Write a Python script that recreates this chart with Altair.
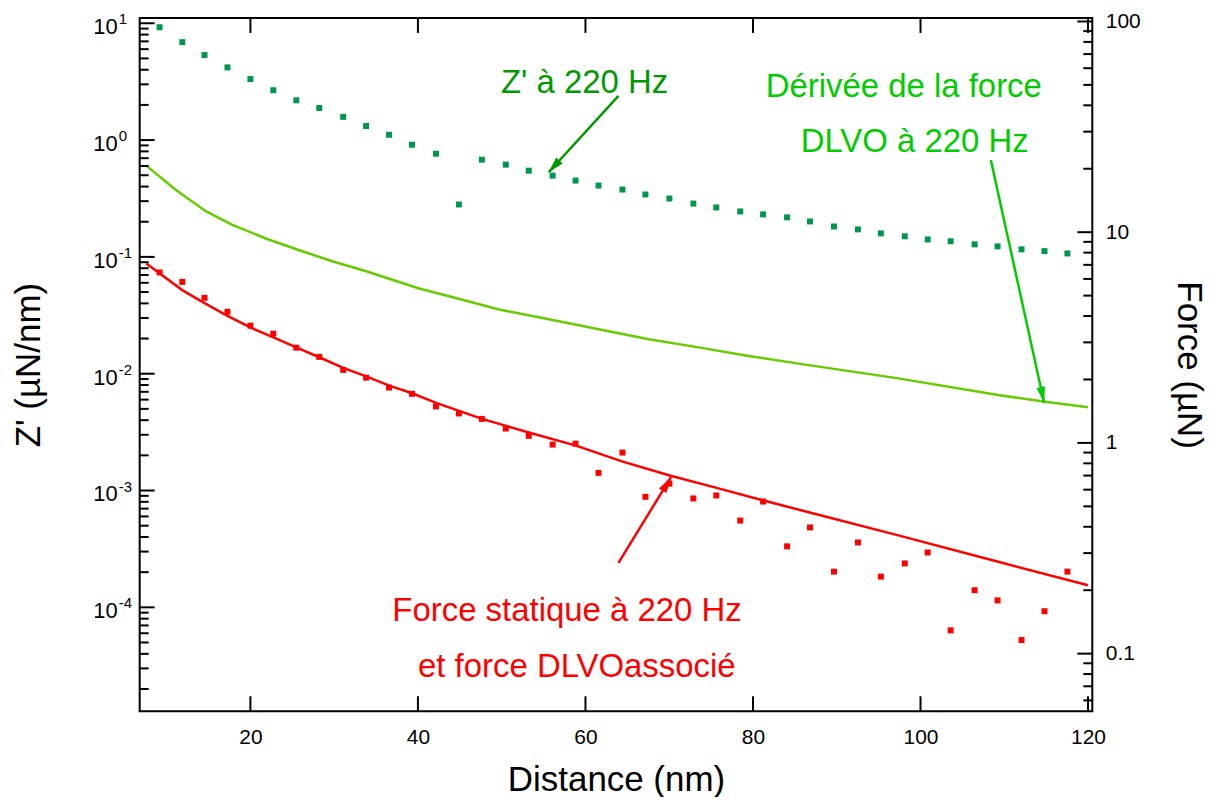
import math
import altair as alt
import pandas as pd

FONT = "Liberation Sans"

# ---------------- data ----------------
distance = [9.16, 11.87, 14.52, 17.26, 20.0, 22.74, 25.48, 28.22, 31.08, 33.81,
            36.55, 39.29, 42.15, 44.89, 47.63, 50.49, 53.23, 56.08, 58.82, 61.56,
            64.42, 67.16, 70.02, 72.88, 75.62, 78.48, 81.21, 84.07, 86.81, 89.67,
            92.53, 95.27, 98.12, 100.86, 103.60, 106.46, 109.20, 112.06, 114.80, 117.54]

# Z' at 220 Hz (left axis, µN/nm)
z_220 = [9.25, 6.89, 5.34, 4.19, 3.33, 2.67, 2.19, 1.88, 1.58, 1.32,
         1.11, 0.912, 0.764, 0.281, 0.679, 0.616, 0.547, 0.496, 0.450, 0.408,
         0.377, 0.342, 0.316, 0.286, 0.265, 0.245, 0.231, 0.218, 0.201, 0.182,
         0.172, 0.159, 0.150, 0.141, 0.136, 0.128, 0.123, 0.116, 0.112, 0.107]

# static force at 220 Hz (right axis, µN)
force_220 = [6.44, 5.81, 4.88, 4.19, 3.60, 3.30, 2.83, 2.56, 2.22, 2.04,
             1.83, 1.71, 1.49, 1.38, 1.30, 1.17, 1.08, 0.982, 0.992, 0.721,
             0.900, 0.555, 0.641, 0.545, 0.563, 0.428, 0.527, 0.323, 0.397, 0.245,
             0.337, 0.232, 0.268, 0.302, 0.129, 0.200, 0.179, 0.116, 0.159, 0.245]

# derivative of the DLVO force (left axis)
deriv_x = [7.57, 11.0, 14.72, 17.85, 21.91, 25.84, 29.77, 33.83, 40.14, 43.72, 49.68,
           55.64, 61.6, 67.56, 73.52, 79.47, 85.43, 97.35, 109.27, 114.87, 120.0]
deriv_y = [0.604, 0.38, 0.245, 0.188, 0.143, 0.114, 0.0918, 0.0754, 0.0537, 0.0461, 0.0355,
           0.0292, 0.0240, 0.0197, 0.0168, 0.0142, 0.0122, 0.00912, 0.00656, 0.00576, 0.00516]

# associated DLVO force (right axis)
dlvo_x = [7.57, 9.15, 11.86, 14.52, 17.26, 20.0, 22.74, 25.48, 28.22, 31.08,
          33.83, 36.57, 39.31, 42.17, 47.65, 53.25, 58.86, 64.46, 70.06, 75.66,
          81.26, 87.82, 97.35, 109.27, 120.0]
dlvo_y = [7.11, 6.39, 5.31, 4.61, 4.01, 3.53, 3.17, 2.84, 2.55, 2.27,
          2.07, 1.87, 1.72, 1.55, 1.30, 1.12, 0.971, 0.815, 0.700, 0.612,
          0.533, 0.456, 0.364, 0.273, 0.211]

# annotations (data coordinates)
lbl_z_text = ["Z' à 220 Hz"]
lbl_z_x = [59.9]
lbl_z_y = [2.54]

lbl_d_text = ["Dérivée de la force", "DLVO à 220 Hz"]
lbl_d_x = [98.0, 99.3]
lbl_d_y = [2.33, 0.785]

lbl_f_text = ["Force statique à 220 Hz", "et force DLVOassocié"]
lbl_f_x = [57.8, 58.97]
lbl_f_y = [0.1426, 0.0774]

arrow_z = dict(x=63.94, y=2.39, x2=55.61, y2=0.530)        # left axis
arrow_d = dict(x=108.40, y=0.676, x2=114.76, y2=0.00564)   # left axis
arrow_f = dict(x=63.94, y=0.2695, x2=70.22, y2=0.688)      # right axis

x_ticks = [20, 40, 60, 80, 100, 120]
yl_exps = [-4, -3, -2, -1, 0, 1]
yr_major = [0.1, 1, 10, 100]

x_domain = [6.78, 120.51]
yl_domain = [1.29e-5, 11.1]
yr_domain = [0.0533, 103.9]

W, H = 955, 695

# ---------------- helpers ----------------
yl_major = [10.0 ** e for e in yl_exps]
yl_minor = [m * 10.0 ** e for e in range(-5, 1) for m in range(2, 10)
            if yl_domain[0] <= m * 10.0 ** e <= yl_domain[1]]
yr_minor = [m * 10.0 ** e for e in range(-2, 2) for m in range(2, 10)
            if yr_domain[0] <= m * 10.0 ** e <= yr_domain[1]]


def px(v):
    return (v - x_domain[0]) / (x_domain[1] - x_domain[0]) * W


def py(v, dom):
    return H * (math.log10(dom[1]) - math.log10(v)) / (math.log10(dom[1]) - math.log10(dom[0]))


def head_angle(a, dom):
    dx = px(a["x2"]) - px(a["x"])
    dy = py(a["y2"], dom) - py(a["y"], dom)
    return (math.degrees(math.atan2(dx, -dy)) + 360) % 360


xs = alt.Scale(domain=x_domain, nice=False, zero=False)
ysL = alt.Scale(type="log", domain=yl_domain, nice=False)
ysR = alt.Scale(type="log", domain=yr_domain, nice=False)

base_ax = dict(domain=False, grid=False, ticks=False, tickSize=0,
               labelFont=FONT, labelColor="black", titleFont=FONT,
               titleColor="black", titleFontWeight="normal")

ax_x_lab = alt.Axis(orient="bottom", values=x_ticks,
                    labelPadding=15, labelFontSize=21, format="d",
                    title="Distance (nm)", titleFontSize=35,
                    titleBaseline="alphabetic", titleY=79, **base_ax)

ax_yl_title = alt.Axis(orient="left", values=yl_major, labels=False,
                       title="Z' (µN/nm)", titleFontSize=35, titleAngle=270,
                       titleBaseline="alphabetic", titleAlign="center", titleX=-100,
                       **base_ax)

ax_yr_lab = alt.Axis(orient="right", values=yr_major,
                     labelPadding=13, labelFontSize=21, format="~g",
                     title="Force (µN)", titleFontSize=35, titleAngle=90,
                     titleBaseline="alphabetic", titleAlign="center", titleX=85,
                     **base_ax)

pts = pd.DataFrame({"distance": distance, "z": z_220, "f": force_220})
deriv = pd.DataFrame({"distance": deriv_x, "z": deriv_y})
dlvo = pd.DataFrame({"distance": dlvo_x, "f": dlvo_y})


def YL(field, axis=None):
    return alt.Y(f"{field}:Q", scale=ysL, axis=axis)


def YR(field, axis=None):
    return alt.Y(f"{field}:Q", scale=ysR, axis=axis)


green_pts = alt.Chart(pts).mark_square(size=36, color="#009650", opacity=1).encode(
    x=alt.X("distance:Q", scale=xs, axis=ax_x_lab), y=YL("z", ax_yl_title))
green_line = alt.Chart(deriv).mark_line(color="#66CC00", strokeWidth=2.5).encode(
    x=alt.X("distance:Q", scale=xs, axis=None), y=YL("z"))
red_pts = alt.Chart(pts).mark_square(size=36, color="#FF0000", opacity=1).encode(
    x=alt.X("distance:Q", scale=xs, axis=None), y=YR("f", ax_yr_lab))
red_line = alt.Chart(dlvo).mark_line(color="#FF0000", strokeWidth=2.5).encode(
    x=alt.X("distance:Q", scale=xs, axis=None), y=YR("f"))

HEAD = "M0,0L0.55,2L-0.55,2Z"


def arrow(a, color, left):
    df = pd.DataFrame([a])
    yfun = YL if left else YR
    dom = yl_domain if left else yr_domain
    shaft = alt.Chart(df).mark_rule(color=color, strokeWidth=2.5).encode(
        x=alt.X("x:Q", scale=xs, axis=None), x2="x2:Q",
        y=yfun("y"), y2="y2:Q")
    head = alt.Chart(df).mark_point(shape=HEAD, size=256, filled=True, opacity=1,
                                    color=color, strokeWidth=0,
                                    angle=head_angle(a, dom)).encode(
        x=alt.X("x2:Q", scale=xs, axis=None), y=yfun("y2"))
    return [shaft, head]


def texts(txt, xv, yv, color, left):
    df = pd.DataFrame({"t": txt, "x": xv, "y": yv})
    yfun = YL if left else YR
    return alt.Chart(df).mark_text(font=FONT, fontSize=33, color=color, align="center",
                                   baseline="alphabetic").encode(
        x=alt.X("x:Q", scale=xs, axis=None), y=yfun("y"), text="t:N")


# ---- inward ticks (frame ticks), positioned through the scales ----
TK = dict(color="black", strokeWidth=2)
yl_maj_df = pd.DataFrame({"v": yl_major})
yl_min_df = pd.DataFrame({"v": yl_minor})
yr_maj_df = pd.DataFrame({"v": yr_major})
yr_min_df = pd.DataFrame({"v": yr_minor})
x_df = pd.DataFrame({"v": x_ticks})

ticks = [
    alt.Chart(yl_maj_df).mark_rule(**TK).encode(y=YL("v"), x=alt.value(0), x2=alt.value(15)),
    alt.Chart(yl_min_df).mark_rule(**TK).encode(y=YL("v"), x=alt.value(0), x2=alt.value(9)),
    alt.Chart(yr_maj_df).mark_rule(**TK).encode(y=YR("v"), x=alt.value(W - 15), x2=alt.value(W)),
    alt.Chart(yr_min_df).mark_rule(**TK).encode(y=YR("v"), x=alt.value(W - 9), x2=alt.value(W)),
    alt.Chart(x_df).mark_rule(**TK).encode(x=alt.X("v:Q", scale=xs, axis=None),
                                           y=alt.value(H - 15), y2=alt.value(H)),
    alt.Chart(x_df).mark_rule(**TK).encode(x=alt.X("v:Q", scale=xs, axis=None),
                                           y=alt.value(0), y2=alt.value(15)),
]

# ---- left tick labels written as 10 with a raised exponent ----
yl_lab_df = pd.DataFrame({"v": yl_major, "base": ["10"] * len(yl_exps),
                          "exp": [str(e) for e in yl_exps]})
labels_left = [
    alt.Chart(yl_lab_df).mark_text(font=FONT, fontSize=22, color="black", align="right",
                                   baseline="alphabetic", dy=11).encode(
        y=YL("v"), x=alt.value(-22), text="base:N"),
    alt.Chart(yl_lab_df).mark_text(font=FONT, fontSize=15, color="black", align="left",
                                   baseline="alphabetic", dy=1).encode(
        y=YL("v"), x=alt.value(-21), text="exp:N"),
]

layers = [green_pts, green_line, red_line, red_pts]
layers += arrow(arrow_z, "#009900", True)
layers += arrow(arrow_d, "#00CC00", True)
layers += arrow(arrow_f, "#FF0000", False)
layers += [texts(lbl_z_text, lbl_z_x, lbl_z_y, "#009900", True),
           texts(lbl_d_text, lbl_d_x, lbl_d_y, "#00CC00", True),
           texts(lbl_f_text, lbl_f_x, lbl_f_y, "#FF0000", False)]
layers += ticks + labels_left

chart = alt.layer(*layers).resolve_scale(y="independent").resolve_axis(
    x="independent", y="independent"
).properties(
    width=W, height=H,
    autosize=alt.AutoSizeParams(type="none"),
    padding={"left": 132, "top": 9, "right": 120, "bottom": 85},
    background="white",
).configure_view(stroke="black", strokeWidth=2)

chart.save("out.html", embed_options={"renderer": "svg", "actions": False})
